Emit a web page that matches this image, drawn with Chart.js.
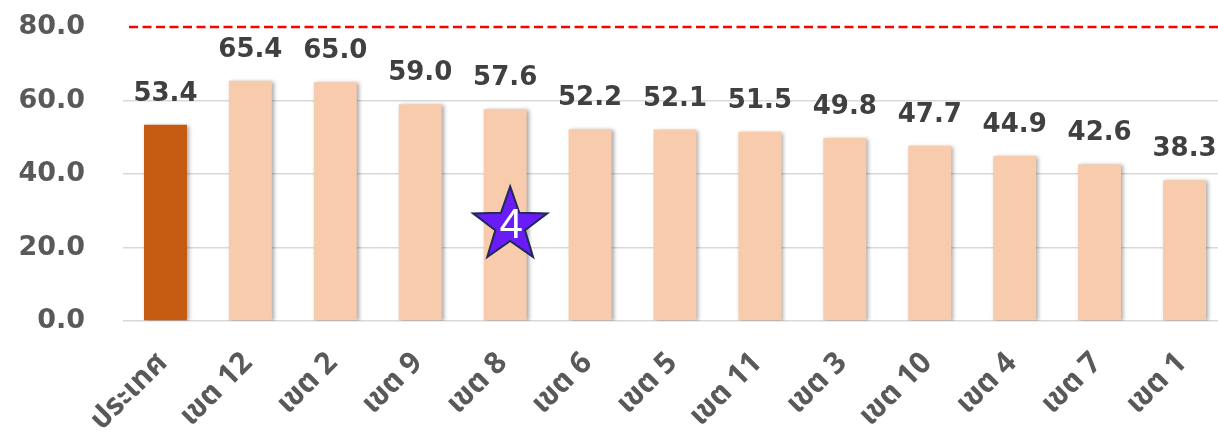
<!DOCTYPE html>
<html><head><meta charset="utf-8">
<script src="https://cdn.jsdelivr.net/npm/chart.js@4"></script>
<style>html,body{margin:0;padding:0;background:#fff;overflow:hidden}#wrap{width:1232px;height:438px;position:relative}</style>
</head><body><div id="wrap"><canvas id="c" width="1232" height="438"></canvas></div>
<script>
const categories = ['ประเทศ','เขต 12','เขต 2','เขต 9','เขต 8','เขต 6','เขต 5','เขต 11','เขต 3','เขต 10','เขต 4','เขต 7','เขต 1'];
const values = [53.4,65.4,65.0,59.0,57.6,52.2,52.1,51.5,49.8,47.7,44.9,42.6,38.3];
const yTicks = [0,20,40,60,80];
const targetValue = 80;
const starCategory = 'เขต 8';
const starValue = 26;
const starLabel = '4';

const NUM_FONT = "'DejaVu Sans', sans-serif";
const THAI_FONT = "'Noto Sans Thai', 'Noto Sans', 'DejaVu Sans', sans-serif";
const barColors = categories.map((c,i)=> i===0 ? '#C55A11' : '#F8CBAD');

const decorPlugin = {
  id:'decor',
  beforeDatasetsDraw(chart){
    const {ctx, chartArea, scales:{y}} = chart;
    const py = y.getPixelForValue(targetValue);
    ctx.save();
    ctx.strokeStyle = '#FF0000';
    ctx.lineWidth = 2.5;
    ctx.setLineDash([9,4.5]);
    ctx.beginPath();
    ctx.moveTo(chartArea.left+6, py);
    ctx.lineTo(chartArea.right, py);
    ctx.stroke();
    ctx.restore();
    ctx.save();
    ctx.shadowColor = 'rgba(0,0,0,0.35)';
    ctx.shadowBlur = 4;
    ctx.shadowOffsetX = 2;
    ctx.shadowOffsetY = 1;
  },
  afterDatasetsDraw(chart){
    const ctx = chart.ctx;
    ctx.restore();
    const meta = chart.getDatasetMeta(0);
    ctx.save();
    ctx.font = "bold 26px " + NUM_FONT;
    ctx.fillStyle = '#404040';
    ctx.textAlign = 'center';
    ctx.textBaseline = 'alphabetic';
    meta.data.forEach((bar,i)=>{
      ctx.fillText(values[i].toFixed(1), bar.x, bar.y - 24);
    });
    ctx.restore();
  },
  afterDraw(chart){
    const {ctx, scales:{x,y}} = chart;
    const cx = x.getPixelForValue(categories.indexOf(starCategory)) + 5;
    const cy = y.getPixelForValue(starValue);
    const R = 39, r = R*0.4;
    ctx.save();
    ctx.beginPath();
    for(let k=0;k<10;k++){
      const ang = -Math.PI/2 + k*Math.PI/5;
      const rad = k%2===0 ? R : r;
      const px = cx + rad*Math.cos(ang), py = cy + rad*Math.sin(ang);
      if(k===0) ctx.moveTo(px,py); else ctx.lineTo(px,py);
    }
    ctx.closePath();
    ctx.fillStyle = '#6A1CF6';
    ctx.fill();
    ctx.strokeStyle = '#1F2A55';
    ctx.lineWidth = 2;
    ctx.lineJoin = 'miter';
    ctx.stroke();
    ctx.fillStyle = '#FFFFFF';
    ctx.font = "42px 'Liberation Sans', Arial, sans-serif";
    ctx.textAlign = 'center';
    ctx.textBaseline = 'alphabetic';
    ctx.fillText(starLabel, cx+1, cy+12.5);
    ctx.restore();
  }
};

new Chart(document.getElementById('c'), {
  type:'bar',
  data:{ labels: categories, datasets:[{ data: values, backgroundColor: barColors, borderWidth:0, categoryPercentage:1, barPercentage:0.506 }]},
  options:{
    responsive:false,
    animation:false,
    devicePixelRatio:1,
    layout:{ padding:{ top:27, right:5, left:0, bottom:0 } },
    plugins:{ legend:{display:false}, tooltip:{enabled:false} },
    scales:{
      x:{
        grid:{ display:false },
        border:{ display:false },
        ticks:{ autoSkip:false, minRotation:45, maxRotation:45, padding:18, labelOffset:-1, color:'#595959',
                font:{ family: THAI_FONT, size:30, weight:'bold' } },
        afterFit(s){ s.height = 117; s.paddingTop = 0; s.paddingBottom = 0; }
      },
      y:{
        min:0, max:80,
        afterBuildTicks(s){ s.ticks = yTicks.map(v=>({value:v})); },
        grid:{ drawTicks:false, lineWidth:1.5, color: c => (c.tick && c.tick.value===targetValue) ? 'rgba(0,0,0,0)' : '#D9D9D9' },
        border:{ display:false },
        ticks:{ padding:38, color:'#595959', font:{ family: NUM_FONT, size:27, weight:'bold' }, callback: v => Number(v).toFixed(1) },
        afterFit(s){ s.width = 123; s.paddingTop = 0; s.paddingBottom = 0; }
      }
    }
  },
  plugins:[decorPlugin]
});
</script>
</body></html>
